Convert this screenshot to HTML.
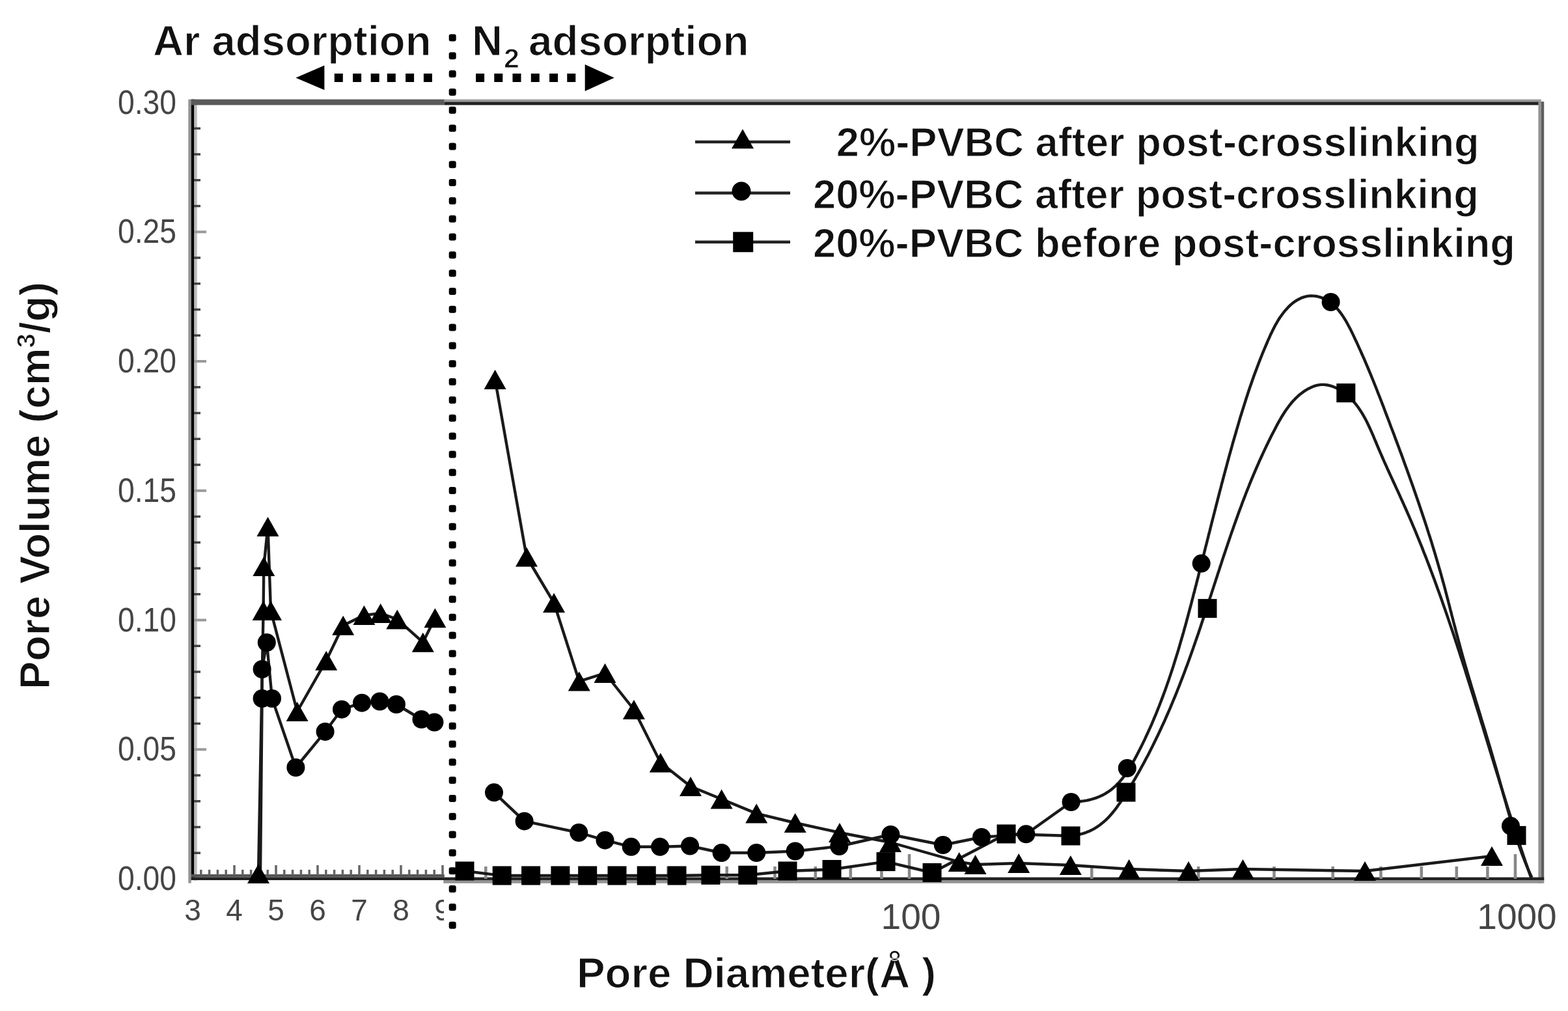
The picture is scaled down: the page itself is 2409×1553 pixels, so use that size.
<!DOCTYPE html><html><head><meta charset="utf-8"><title>Pore size distribution</title><style>html,body{margin:0;padding:0;background:#fff;overflow:hidden;}svg{display:block;}text{font-family:"Liberation Sans",Arial,sans-serif;}</style></head><body>
<svg width="2409" height="1553" viewBox="0 0 2409 1553">
<rect width="100%" height="100%" fill="#fff"/>
<g id="chart">
<rect x="289.3" y="152.6" width="4.5" height="1204" fill="#959595"/>
<rect x="298" y="152.6" width="4.7" height="1200" fill="#bbb"/>
<rect x="293.8" y="152.6" width="4.3" height="1199.4" fill="#000"/>
<rect x="293.8" y="152.6" width="389" height="8.8" fill="#5a5a5a"/>
<rect x="682.8" y="152.6" width="1685" height="3.8" fill="#9a9a9a"/>
<rect x="682.8" y="156.4" width="1689" height="5" fill="#222"/>
<rect x="2363.4" y="156.4" width="4.6" height="1200.6" fill="#939393"/>
<rect x="2368" y="156.4" width="4.2" height="1195.6" fill="#5f5f5f"/>
<rect x="293.8" y="1343" width="389" height="4.6" fill="#555"/>
<rect x="293.8" y="1347.6" width="2078.4" height="4.4" fill="#222"/>
<rect x="681.3" y="1352" width="1691" height="4.8" fill="#939393"/>
<path d="M298,1310.2 h10 M298,1270.5 h10 M298,1230.8 h10 M298,1191 h10 M298,1111.5 h10 M298,1071.8 h10 M298,1032 h10 M298,992.2 h10 M298,912.8 h10 M298,873 h10 M298,833.2 h10 M298,793.5 h10 M298,714 h10 M298,674.2 h10 M298,634.5 h10 M298,594.8 h10 M298,515.2 h10 M298,475.5 h10 M298,435.7 h10 M298,396 h10 M298,316.5 h10 M298,276.7 h10 M298,237 h10 M298,197.2 h10" stroke="#444" stroke-width="3.6" fill="none"/>
<path d="M298,1151.2 h19 M298,952.5 h19 M298,753.8 h19 M298,555 h19 M298,356.2 h19" stroke="#9a9a9a" stroke-width="4" fill="none"/>
<path d="M308.8,1344 v-8 M321.6,1344 v-8 M334.4,1344 v-8 M347.2,1344 v-8 M360,1344 v-15 M372.8,1344 v-8 M385.6,1344 v-8 M398.4,1344 v-8 M411.2,1344 v-8 M424,1344 v-15 M436.8,1344 v-8 M449.6,1344 v-8 M462.4,1344 v-8 M475.2,1344 v-8 M488,1344 v-15 M500.8,1344 v-8 M513.6,1344 v-8 M526.4,1344 v-8 M539.2,1344 v-8 M552,1344 v-15 M564.8,1344 v-8 M577.6,1344 v-8 M590.4,1344 v-8 M603.2,1344 v-8 M616,1344 v-15 M628.8,1344 v-8 M641.6,1344 v-8 M654.4,1344 v-8 M667.2,1344 v-8 M680,1344 v-15" stroke="#666" stroke-width="3.5" fill="none"/>
<path d="M746.3,1350 v-19 M910.2,1350 v-19 M1026.5,1350 v-19 M1116.7,1350 v-19 M1190.5,1350 v-19 M1252.8,1350 v-19 M1306.8,1350 v-19 M1354.4,1350 v-19 M1677.3,1350 v-19 M1841.2,1350 v-19 M1957.5,1350 v-19 M2047.7,1350 v-19 M2121.5,1350 v-19 M2183.8,1350 v-19 M2237.8,1350 v-19 M2285.4,1350 v-19 M1397,1350 v-38 M2328,1350 v-38" stroke="#888" stroke-width="4.5" fill="none"/>
<g fill="#000"><rect x="689.7" y="52.5" width="11" height="11" rx="3"/><rect x="689.7" y="80.3" width="11" height="11" rx="3"/><rect x="689.7" y="108.1" width="11" height="11" rx="3"/><rect x="689.7" y="136" width="11" height="11" rx="3"/><rect x="689.7" y="163.8" width="11" height="11" rx="3"/><rect x="689.7" y="191.6" width="11" height="11" rx="3"/><rect x="689.7" y="219.4" width="11" height="11" rx="3"/><rect x="689.7" y="247.2" width="11" height="11" rx="3"/><rect x="689.7" y="275.1" width="11" height="11" rx="3"/><rect x="689.7" y="302.9" width="11" height="11" rx="3"/><rect x="689.7" y="330.7" width="11" height="11" rx="3"/><rect x="689.7" y="358.5" width="11" height="11" rx="3"/><rect x="689.7" y="386.3" width="11" height="11" rx="3"/><rect x="689.7" y="414.2" width="11" height="11" rx="3"/><rect x="689.7" y="442" width="11" height="11" rx="3"/><rect x="689.7" y="469.8" width="11" height="11" rx="3"/><rect x="689.7" y="497.6" width="11" height="11" rx="3"/><rect x="689.7" y="525.4" width="11" height="11" rx="3"/><rect x="689.7" y="553.3" width="11" height="11" rx="3"/><rect x="689.7" y="581.1" width="11" height="11" rx="3"/><rect x="689.7" y="608.9" width="11" height="11" rx="3"/><rect x="689.7" y="636.7" width="11" height="11" rx="3"/><rect x="689.7" y="664.5" width="11" height="11" rx="3"/><rect x="689.7" y="692.4" width="11" height="11" rx="3"/><rect x="689.7" y="720.2" width="11" height="11" rx="3"/><rect x="689.7" y="748" width="11" height="11" rx="3"/><rect x="689.7" y="775.8" width="11" height="11" rx="3"/><rect x="689.7" y="803.6" width="11" height="11" rx="3"/><rect x="689.7" y="831.5" width="11" height="11" rx="3"/><rect x="689.7" y="859.3" width="11" height="11" rx="3"/><rect x="689.7" y="887.1" width="11" height="11" rx="3"/><rect x="689.7" y="914.9" width="11" height="11" rx="3"/><rect x="689.7" y="942.7" width="11" height="11" rx="3"/><rect x="689.7" y="970.6" width="11" height="11" rx="3"/><rect x="689.7" y="998.4" width="11" height="11" rx="3"/><rect x="689.7" y="1026.2" width="11" height="11" rx="3"/><rect x="689.7" y="1054" width="11" height="11" rx="3"/><rect x="689.7" y="1081.8" width="11" height="11" rx="3"/><rect x="689.7" y="1109.7" width="11" height="11" rx="3"/><rect x="689.7" y="1137.5" width="11" height="11" rx="3"/><rect x="689.7" y="1165.3" width="11" height="11" rx="3"/><rect x="689.7" y="1193.1" width="11" height="11" rx="3"/><rect x="689.7" y="1220.9" width="11" height="11" rx="3"/><rect x="689.7" y="1248.8" width="11" height="11" rx="3"/><rect x="689.7" y="1276.6" width="11" height="11" rx="3"/><rect x="689.7" y="1304.4" width="11" height="11" rx="3"/><rect x="689.7" y="1332.2" width="11" height="11" rx="3"/><rect x="689.7" y="1360" width="11" height="11" rx="3"/><rect x="689.7" y="1387.9" width="11" height="11" rx="3"/><rect x="689.7" y="1415.7" width="11" height="11" rx="3"/></g>
<g fill="none" stroke="#1a1a1a" stroke-width="4.4" stroke-linejoin="round">
<path d="M397,1342 L404.6,938 L405.3,870 L411.5,809 L416,938 L456.6,1093 L501.2,1014.7 L527.2,960.7 L559.4,945.1 L584.7,942 L610.3,951.4 L649.8,986.7 L668.4,949.3"/>
<path d="M760.6,583 L809,855.5 L851.1,926 L889.8,1046.6 L929.5,1034 L973.9,1090 L1014.8,1171.6 L1061,1208 L1108.6,1227.5 L1162.2,1249.6 L1221.7,1264 L1290,1279 L1368,1294 L1473.7,1324 L1498.5,1328 L1565.2,1326 L1644.8,1329 L1734.6,1335 L1826,1338 L1909.5,1335 L2097,1338 L2292,1315"/>
<path d="M400,1342 L402.6,1073 L402.6,1028 L409.8,987 L418,1073 L454.4,1179 L499.6,1123.9 L525,1089.7 L556,1079.7 L583.5,1077.5 L608.9,1082 L647.5,1105 L667.4,1109.5"/>
<path d="M759,1217.3 L805.6,1261.4 L889.3,1279 L929.5,1290.7 L969.7,1300.8 L1014.1,1300.8 L1060,1299.5 L1108.6,1310 L1162.2,1310 L1221.7,1307.5 L1289.3,1300 L1368.4,1282 L1448.8,1298 L1508,1286 L1576.4,1281.3 L1645.6,1232"/>
<path d="M1644.7,1231.4 L1649.7,1231.5 L1654.7,1231.4 L1659.7,1231.0 L1664.7,1230.4 L1669.6,1229.6 L1674.5,1228.5 L1679.3,1227.2 L1684.1,1225.6 L1688.8,1223.8 L1693.3,1221.7 L1697.7,1219.4 L1702.0,1216.7 L1706.1,1213.9 L1710.0,1210.7 L1713.8,1207.4 L1717.3,1203.9 L1720.7,1200.2 L1723.9,1196.3 L1727.0,1192.3 L1729.9,1188.3 L1732.7,1184.1 L1735.4,1179.9 L1738.0,1175.6 L1740.5,1171.2 L1742.9,1166.9 L1745.3,1162.4 L1747.6,1158.0 L1749.9,1153.6 L1752.2,1149.1 L1754.4,1144.6 L1756.6,1140.1 L1758.8,1135.6 L1760.9,1131.0 L1763.0,1126.5 L1765.1,1121.9 L1767.2,1117.3 L1769.2,1112.8 L1771.2,1108.2 L1773.1,1103.5 L1775.1,1098.9 L1777.0,1094.3 L1778.8,1089.6 L1780.7,1085.0 L1782.5,1080.3 L1784.3,1075.6 L1786.1,1070.9 L1787.8,1066.2 L1789.6,1061.5 L1791.3,1056.8 L1792.9,1052.1 L1794.6,1047.3 L1796.2,1042.6 L1797.8,1037.9 L1799.4,1033.1 L1801.0,1028.3 L1802.5,1023.6 L1804.0,1018.8 L1805.5,1014.0 L1807.0,1009.2 L1808.5,1004.4 L1810.0,999.6 L1811.4,994.8 L1812.8,990.0 L1814.2,985.2 L1815.6,980.4 L1817.0,975.6 L1818.4,970.8 L1819.7,965.9 L1821.1,961.1 L1822.4,956.3 L1823.7,951.4 L1825.0,946.6 L1826.3,941.7 L1827.6,936.9 L1828.9,932.1 L1830.2,927.2 L1831.4,922.4 L1832.7,917.5 L1833.9,912.6 L1835.2,907.8 L1836.4,902.9 L1837.7,898.1 L1838.9,893.2 L1840.2,888.4 L1841.4,883.5 L1842.6,878.6 L1843.9,873.8 L1845.1,868.9 L1846.3,864.1 L1847.5,859.2 L1848.8,854.3 L1850.0,849.5 L1851.2,844.6 L1852.4,839.8 L1853.7,834.9 L1854.9,830.0 L1856.1,825.2 L1857.3,820.3 L1858.6,815.5 L1859.8,810.6 L1861.0,805.7 L1862.2,800.9 L1863.5,796.0 L1864.7,791.2 L1866.0,786.3 L1867.2,781.4 L1868.4,776.6 L1869.7,771.7 L1870.9,766.9 L1872.2,762.0 L1873.4,757.2 L1874.7,752.3 L1876.0,747.5 L1877.2,742.6 L1878.5,737.8 L1879.8,732.9 L1881.1,728.1 L1882.4,723.2 L1883.7,718.4 L1885.0,713.5 L1886.3,708.7 L1887.6,703.9 L1888.9,699.0 L1890.3,694.2 L1891.6,689.4 L1893.0,684.5 L1894.3,679.7 L1895.7,674.9 L1897.1,670.1 L1898.5,665.3 L1899.9,660.4 L1901.3,655.6 L1902.7,650.8 L1904.1,646.0 L1905.5,641.2 L1907.0,636.4 L1908.5,631.6 L1910.0,626.8 L1911.5,622.1 L1913.0,617.3 L1914.5,612.5 L1916.1,607.7 L1917.6,603.0 L1919.2,598.2 L1920.8,593.5 L1922.5,588.7 L1924.1,584.0 L1925.8,579.3 L1927.5,574.6 L1929.3,569.9 L1931.0,565.2 L1932.8,560.5 L1934.6,555.8 L1936.4,551.1 L1938.3,546.5 L1940.1,541.8 L1942.1,537.2 L1944.0,532.6 L1946.0,528.0 L1947.9,523.4 L1950.0,518.8 L1952.0,514.2 L1954.2,509.7 L1956.4,505.2 L1958.7,500.7 L1961.2,496.4 L1963.7,492.0 L1966.4,487.8 L1969.3,483.7 L1972.3,479.7 L1975.5,475.9 L1978.9,472.2 L1982.5,468.7 L1986.3,465.4 L1990.4,462.5 L1994.7,459.9 L1999.2,457.7 L2003.9,456.1 L2008.8,454.9 L2013.8,454.4 L2018.8,454.6 L2023.8,455.3 L2028.6,456.6 L2033.3,458.4 L2037.8,460.6 L2042.0,463.2 L2046.1,466.2 L2049.8,469.5 L2053.4,473.1 L2056.7,476.8 L2059.8,480.8 L2062.7,484.9 L2065.4,489.1 L2068.0,493.4 L2070.4,497.7 L2072.8,502.2 L2075.1,506.6 L2077.3,511.1 L2079.5,515.6 L2081.6,520.2 L2083.8,524.7 L2085.9,529.3 L2087.9,533.8 L2090.0,538.4 L2092.0,543.0 L2094.1,547.6 L2096.1,552.2 L2098.1,556.8 L2100.0,561.4 L2102.0,566.0 L2103.9,570.6 L2105.8,575.2 L2107.7,579.9 L2109.6,584.5 L2111.5,589.2 L2113.3,593.8 L2115.2,598.5 L2117.0,603.2 L2118.8,607.8 L2120.7,612.5 L2122.5,617.2 L2124.3,621.9 L2126.1,626.5 L2127.8,631.2 L2129.6,635.9 L2131.4,640.6 L2133.2,645.3 L2135.0,650.0 L2136.7,654.7 L2138.5,659.3 L2140.3,664.0 L2142.1,668.7 L2143.8,673.4 L2145.6,678.1 L2147.3,682.8 L2149.1,687.5 L2150.8,692.2 L2152.6,696.9 L2154.3,701.6 L2156.0,706.3 L2157.7,711.0 L2159.4,715.7 L2161.2,720.5 L2162.9,725.2 L2164.6,729.9 L2166.2,734.6 L2167.9,739.3 L2169.6,744.1 L2171.3,748.8 L2172.9,753.5 L2174.6,758.2 L2176.2,763.0 L2177.9,767.7 L2179.5,772.5 L2181.1,777.2 L2182.7,782.0 L2184.3,786.7 L2185.9,791.5 L2187.5,796.2 L2189.1,801.0 L2190.6,805.7 L2192.2,810.5 L2193.7,815.3 L2195.2,820.1 L2196.8,824.8 L2198.3,829.6 L2199.8,834.4 L2201.2,839.2 L2202.7,844.0 L2204.2,848.8 L2205.6,853.6 L2207.0,858.4 L2208.4,863.2 L2209.8,868.0 L2211.2,872.8 L2212.6,877.7 L2214.0,882.5 L2215.3,887.3 L2216.6,892.1 L2218.0,897.0 L2219.3,901.8 L2220.6,906.7 L2221.8,911.5 L2223.1,916.4 L2224.4,921.2 L2225.6,926.1 L2226.9,930.9 L2228.1,935.8 L2229.4,940.6 L2230.6,945.5 L2231.9,950.3 L2233.1,955.2 L2234.4,960.0 L2235.7,964.9 L2236.9,969.7 L2238.2,974.6 L2239.5,979.4 L2240.8,984.3 L2242.1,989.1 L2243.4,994.0 L2244.7,998.8 L2246.0,1003.6 L2247.4,1008.5 L2248.8,1013.3 L2250.1,1018.1 L2251.5,1022.9 L2252.9,1027.7 L2254.3,1032.6 L2255.7,1037.4 L2257.1,1042.2 L2258.6,1047.0 L2260.0,1051.8 L2261.4,1056.6 L2262.9,1061.4 L2264.3,1066.2 L2265.8,1071.0 L2267.2,1075.8 L2268.7,1080.6 L2270.2,1085.4 L2271.6,1090.2 L2273.1,1095.0 L2274.6,1099.8 L2276.0,1104.6 L2277.5,1109.3 L2278.9,1114.1 L2280.4,1118.9 L2281.9,1123.7 L2283.3,1128.5 L2284.8,1133.3 L2286.2,1138.1 L2287.6,1142.9 L2289.1,1147.7 L2290.5,1152.5 L2291.9,1157.4 L2293.3,1162.2 L2294.7,1167.0 L2296.1,1171.8 L2297.5,1176.6 L2298.9,1181.4 L2300.3,1186.3 L2301.6,1191.1 L2303.0,1195.9 L2304.3,1200.7 L2305.7,1205.6 L2307.0,1210.4 L2308.4,1215.2 L2309.7,1220.1 L2311.1,1224.9 L2312.4,1229.7 L2313.8,1234.5 L2315.1,1239.4 L2316.5,1244.2 L2317.9,1249.0 L2319.3,1253.8 L2320.8,1258.6 L2322.2,1263.4 L2323.7,1268.2 L2325.2,1273.0 L2326.7,1277.8 L2328.2,1282.5 L2329.8,1287.3 L2331.4,1292.0 L2333.0,1296.8 L2334.7,1301.5 L2336.4,1306.2 L2338.1,1310.9 L2339.9,1315.6 L2341.7,1320.3 L2343.5,1325.0 L2345.4,1329.6 L2347.3,1334.3 L2349.3,1338.9 L2351.3,1343.4 L2353.4,1348.0"/>
<path d="M714,1338 L771.2,1345 L815.6,1345 L860.9,1345 L902.7,1345 L948,1345 L993.2,1345 L1040,1345 L1091.9,1344.3 L1148.8,1344.3 L1210,1338 L1278,1335.5 L1361,1323.6 L1432,1340.5 L1546,1281 L1645,1284"/>
<path d="M1644.1,1283.7 L1649.1,1283.2 L1654.0,1282.6 L1658.9,1281.6 L1663.8,1280.3 L1668.5,1278.8 L1673.2,1276.9 L1677.7,1274.8 L1682.1,1272.3 L1686.3,1269.7 L1690.4,1266.8 L1694.3,1263.6 L1698.1,1260.3 L1701.7,1256.9 L1705.1,1253.2 L1708.4,1249.5 L1711.6,1245.6 L1714.7,1241.7 L1717.6,1237.6 L1720.5,1233.5 L1723.3,1229.4 L1726.1,1225.2 L1728.8,1221.0 L1731.4,1216.7 L1734.0,1212.5 L1736.6,1208.2 L1739.2,1203.9 L1741.8,1199.6 L1744.3,1195.3 L1746.8,1190.9 L1749.3,1186.6 L1751.7,1182.2 L1754.1,1177.8 L1756.5,1173.5 L1758.9,1169.0 L1761.2,1164.6 L1763.6,1160.2 L1765.9,1155.7 L1768.1,1151.3 L1770.4,1146.8 L1772.6,1142.3 L1774.8,1137.8 L1777.0,1133.3 L1779.2,1128.8 L1781.3,1124.3 L1783.4,1119.8 L1785.5,1115.2 L1787.6,1110.7 L1789.7,1106.1 L1791.7,1101.5 L1793.7,1097.0 L1795.7,1092.4 L1797.7,1087.8 L1799.6,1083.2 L1801.6,1078.5 L1803.5,1073.9 L1805.4,1069.3 L1807.3,1064.7 L1809.1,1060.0 L1811.0,1055.4 L1812.8,1050.7 L1814.6,1046.0 L1816.4,1041.4 L1818.2,1036.7 L1820.0,1032.0 L1821.7,1027.3 L1823.5,1022.6 L1825.2,1017.9 L1826.9,1013.2 L1828.6,1008.5 L1830.3,1003.8 L1832.0,999.1 L1833.6,994.4 L1835.3,989.6 L1836.9,984.9 L1838.5,980.2 L1840.2,975.4 L1841.8,970.7 L1843.4,966.0 L1845.0,961.2 L1846.5,956.5 L1848.1,951.7 L1849.7,947.0 L1851.3,942.2 L1852.8,937.4 L1854.4,932.7 L1855.9,927.9 L1857.5,923.2 L1859.0,918.4 L1860.6,913.7 L1862.1,908.9 L1863.7,904.1 L1865.2,899.4 L1866.8,894.6 L1868.3,889.9 L1869.9,885.1 L1871.4,880.3 L1873.0,875.6 L1874.5,870.8 L1876.1,866.1 L1877.6,861.3 L1879.2,856.6 L1880.8,851.8 L1882.4,847.1 L1884.0,842.3 L1885.6,837.6 L1887.2,832.8 L1888.8,828.1 L1890.4,823.4 L1892.0,818.6 L1893.7,813.9 L1895.3,809.2 L1897.0,804.5 L1898.7,799.7 L1900.4,795.0 L1902.1,790.3 L1903.8,785.6 L1905.5,780.9 L1907.3,776.2 L1909.0,771.5 L1910.8,766.9 L1912.6,762.2 L1914.4,757.5 L1916.2,752.9 L1918.1,748.2 L1919.9,743.6 L1921.8,738.9 L1923.7,734.3 L1925.7,729.7 L1927.6,725.1 L1929.6,720.5 L1931.6,715.9 L1933.6,711.3 L1935.6,706.7 L1937.7,702.2 L1939.8,697.6 L1941.9,693.1 L1944.0,688.6 L1946.2,684.0 L1948.4,679.5 L1950.6,675.0 L1952.8,670.6 L1955.1,666.1 L1957.4,661.7 L1959.7,657.2 L1962.0,652.8 L1964.4,648.4 L1966.9,644.1 L1969.4,639.7 L1972.1,635.5 L1974.8,631.3 L1977.7,627.2 L1980.7,623.2 L1983.8,619.3 L1987.1,615.5 L1990.6,611.9 L1994.2,608.5 L1998.0,605.2 L2002.0,602.2 L2006.2,599.4 L2010.5,596.9 L2015.0,594.7 L2019.7,592.9 L2024.5,591.6 L2029.4,590.9 L2034.4,590.9 L2039.4,591.5 L2044.3,592.6 L2049.0,594.3 L2053.6,596.3 L2058.0,598.7 L2062.2,601.4 L2066.2,604.4 L2070.1,607.5 L2073.8,610.9 L2077.3,614.4 L2080.7,618.2 L2083.9,622.0 L2086.9,626.0 L2089.7,630.2 L2092.4,634.4 L2094.9,638.7 L2097.4,643.1 L2099.7,647.5 L2101.9,652.0 L2104.0,656.5 L2106.1,661.1 L2108.1,665.6 L2110.1,670.2 L2112.0,674.9 L2114.0,679.5 L2115.9,684.1 L2117.8,688.7 L2119.8,693.3 L2121.8,697.9 L2123.8,702.5 L2125.8,707.1 L2127.8,711.6 L2129.9,716.2 L2131.9,720.8 L2134.0,725.3 L2136.1,729.9 L2138.2,734.4 L2140.3,739.0 L2142.4,743.5 L2144.5,748.1 L2146.6,752.6 L2148.7,757.2 L2150.7,761.7 L2152.8,766.3 L2154.9,770.8 L2156.9,775.4 L2159.0,780.0 L2161.0,784.5 L2163.0,789.1 L2165.0,793.7 L2167.0,798.3 L2169.0,802.9 L2170.9,807.5 L2172.9,812.1 L2174.8,816.7 L2176.7,821.4 L2178.6,826.0 L2180.5,830.6 L2182.4,835.3 L2184.3,839.9 L2186.1,844.6 L2187.9,849.2 L2189.8,853.9 L2191.6,858.5 L2193.4,863.2 L2195.2,867.9 L2197.0,872.6 L2198.7,877.2 L2200.5,881.9 L2202.2,886.6 L2204.0,891.3 L2205.7,896.0 L2207.4,900.7 L2209.1,905.4 L2210.8,910.1 L2212.5,914.8 L2214.2,919.5 L2215.9,924.3 L2217.5,929.0 L2219.2,933.7 L2220.8,938.4 L2222.5,943.2 L2224.1,947.9 L2225.7,952.6 L2227.3,957.4 L2228.9,962.1 L2230.5,966.9 L2232.1,971.6 L2233.7,976.4 L2235.3,981.1 L2236.8,985.9 L2238.4,990.6 L2239.9,995.4 L2241.5,1000.1 L2243.0,1004.9 L2244.6,1009.7 L2246.1,1014.4 L2247.6,1019.2 L2249.2,1024.0 L2250.7,1028.7 L2252.2,1033.5 L2253.7,1038.3 L2255.2,1043.0 L2256.7,1047.8 L2258.2,1052.6 L2259.7,1057.4 L2261.2,1062.1 L2262.7,1066.9 L2264.2,1071.7 L2265.7,1076.5 L2267.1,1081.3 L2268.6,1086.0 L2270.1,1090.8 L2271.6,1095.6 L2273.1,1100.4 L2274.5,1105.2 L2276.0,1110.0 L2277.5,1114.7 L2278.9,1119.5 L2280.4,1124.3 L2281.9,1129.1 L2283.3,1133.9 L2284.8,1138.7 L2286.3,1143.5 L2287.7,1148.2 L2289.2,1153.0 L2290.7,1157.8 L2292.1,1162.6 L2293.6,1167.4 L2295.1,1172.2 L2296.5,1176.9 L2298.0,1181.7 L2299.5,1186.5 L2301.0,1191.3 L2302.5,1196.1 L2303.9,1200.9 L2305.4,1205.6 L2306.9,1210.4 L2308.4,1215.2 L2309.9,1220.0 L2311.4,1224.7 L2312.9,1229.5 L2314.4,1234.3 L2315.9,1239.1 L2317.4,1243.8 L2318.9,1248.6 L2320.5,1253.4 L2322.0,1258.1 L2323.5,1262.9 L2325.1,1267.7 L2326.6,1272.4 L2328.2,1277.2 L2329.7,1281.9 L2331.3,1286.7 L2332.9,1291.4 L2334.4,1296.2 L2336.0,1300.9 L2337.6,1305.7 L2339.2,1310.4 L2340.8,1315.2 L2342.4,1319.9 L2344.0,1324.7 L2345.7,1329.4 L2347.3,1334.1 L2348.9,1338.8 L2350.6,1343.6 L2352.3,1348.3"/>
</g>
<g fill="#000">
<rect x="699.5" y="1323.5" width="29.0" height="29.0"/>
<rect x="756.7" y="1330.5" width="29.0" height="29.0"/>
<rect x="801.1" y="1330.5" width="29.0" height="29.0"/>
<rect x="846.4" y="1330.5" width="29.0" height="29.0"/>
<rect x="888.2" y="1330.5" width="29.0" height="29.0"/>
<rect x="933.5" y="1330.5" width="29.0" height="29.0"/>
<rect x="978.7" y="1330.5" width="29.0" height="29.0"/>
<rect x="1025.5" y="1330.5" width="29.0" height="29.0"/>
<rect x="1077.4" y="1329.8" width="29.0" height="29.0"/>
<rect x="1134.3" y="1329.8" width="29.0" height="29.0"/>
<rect x="1195.5" y="1323.5" width="29.0" height="29.0"/>
<rect x="1263.5" y="1321" width="29.0" height="29.0"/>
<rect x="1346.5" y="1309.1" width="29.0" height="29.0"/>
<rect x="1417.5" y="1326" width="29.0" height="29.0"/>
<rect x="1531.5" y="1266.5" width="29.0" height="29.0"/>
<rect x="1630.5" y="1269.5" width="29.0" height="29.0"/>
<rect x="1715.5" y="1202.5" width="29.0" height="29.0"/>
<rect x="1840.5" y="920.1" width="29.0" height="29.0"/>
<rect x="2053.3" y="589.1" width="29.0" height="29.0"/>
<rect x="2315.5" y="1268.9" width="29.0" height="29.0"/>
<circle cx="402.6" cy="1073" r="14"/>
<circle cx="402.6" cy="1028" r="14"/>
<circle cx="409.8" cy="987" r="14"/>
<circle cx="418" cy="1073" r="14"/>
<circle cx="454.4" cy="1179" r="14"/>
<circle cx="499.6" cy="1123.9" r="14"/>
<circle cx="525" cy="1089.7" r="14"/>
<circle cx="556" cy="1079.7" r="14"/>
<circle cx="583.5" cy="1077.5" r="14"/>
<circle cx="608.9" cy="1082" r="14"/>
<circle cx="647.5" cy="1105" r="14"/>
<circle cx="667.4" cy="1109.5" r="14"/>
<circle cx="759" cy="1217.3" r="14"/>
<circle cx="805.6" cy="1261.4" r="14"/>
<circle cx="889.3" cy="1279" r="14"/>
<circle cx="929.5" cy="1290.7" r="14"/>
<circle cx="969.7" cy="1300.8" r="14"/>
<circle cx="1014.1" cy="1300.8" r="14"/>
<circle cx="1060" cy="1299.5" r="14"/>
<circle cx="1108.6" cy="1310" r="14"/>
<circle cx="1162.2" cy="1310" r="14"/>
<circle cx="1221.7" cy="1307.5" r="14"/>
<circle cx="1289.3" cy="1300" r="14"/>
<circle cx="1368.4" cy="1282" r="14"/>
<circle cx="1448.8" cy="1298" r="14"/>
<circle cx="1508" cy="1286" r="14"/>
<circle cx="1576.4" cy="1281.3" r="14"/>
<circle cx="1645.6" cy="1232" r="14"/>
<circle cx="1731.8" cy="1180" r="14"/>
<circle cx="1845.7" cy="865.6" r="14"/>
<circle cx="2044.6" cy="464" r="14"/>
<circle cx="2321" cy="1268.8" r="14"/>
<path d="M397,1327 L414,1357 L380,1357Z"/>
<path d="M404.6,923 L421.6,953 L387.6,953Z"/>
<path d="M405.3,855 L422.3,885 L388.3,885Z"/>
<path d="M411.5,794 L428.5,824 L394.5,824Z"/>
<path d="M416,923 L433,953 L399,953Z"/>
<path d="M456.6,1078 L473.6,1108 L439.6,1108Z"/>
<path d="M501.2,999.7 L518.2,1029.7 L484.2,1029.7Z"/>
<path d="M527.2,945.7 L544.2,975.7 L510.2,975.7Z"/>
<path d="M559.4,930.1 L576.4,960.1 L542.4,960.1Z"/>
<path d="M584.7,927 L601.7,957 L567.7,957Z"/>
<path d="M610.3,936.4 L627.3,966.4 L593.3,966.4Z"/>
<path d="M649.8,971.7 L666.8,1001.7 L632.8,1001.7Z"/>
<path d="M668.4,934.3 L685.4,964.3 L651.4,964.3Z"/>
<path d="M760.6,568 L777.6,598 L743.6,598Z"/>
<path d="M809,840.5 L826,870.5 L792,870.5Z"/>
<path d="M851.1,911 L868.1,941 L834.1,941Z"/>
<path d="M889.8,1031.6 L906.8,1061.6 L872.8,1061.6Z"/>
<path d="M929.5,1019 L946.5,1049 L912.5,1049Z"/>
<path d="M973.9,1075 L990.9,1105 L956.9,1105Z"/>
<path d="M1014.8,1156.6 L1031.8,1186.6 L997.8,1186.6Z"/>
<path d="M1061,1193 L1078,1223 L1044,1223Z"/>
<path d="M1108.6,1212.5 L1125.6,1242.5 L1091.6,1242.5Z"/>
<path d="M1162.2,1234.6 L1179.2,1264.6 L1145.2,1264.6Z"/>
<path d="M1221.7,1249 L1238.7,1279 L1204.7,1279Z"/>
<path d="M1290,1264 L1307,1294 L1273,1294Z"/>
<path d="M1368,1279 L1385,1309 L1351,1309Z"/>
<path d="M1473.7,1309 L1490.7,1339 L1456.7,1339Z"/>
<path d="M1498.5,1313 L1515.5,1343 L1481.5,1343Z"/>
<path d="M1565.2,1311 L1582.2,1341 L1548.2,1341Z"/>
<path d="M1644.8,1314 L1661.8,1344 L1627.8,1344Z"/>
<path d="M1734.6,1320 L1751.6,1350 L1717.6,1350Z"/>
<path d="M1826,1323 L1843,1353 L1809,1353Z"/>
<path d="M1909.5,1320 L1926.5,1350 L1892.5,1350Z"/>
<path d="M2097,1323 L2114,1353 L2080,1353Z"/>
<path d="M2292,1300 L2309,1330 L2275,1330Z"/>
</g>
<g stroke="#222" stroke-width="4.5">
<line x1="1068" y1="218" x2="1214" y2="218"/>
<line x1="1068" y1="296.5" x2="1214" y2="296.5"/>
<line x1="1068" y1="371.8" x2="1214" y2="371.8"/>
</g><g fill="#000">
<path d="M1141,198.3 L1158,228.3 L1124,228.3Z"/>
<circle cx="1139" cy="293.7" r="14.5"/>
<rect x="1126.2" y="356.3" width="31.0" height="31.0"/>
</g>
<g font-weight="bold" font-size="63.5" fill="#111" stroke="#fff" stroke-width="1.2">
<text x="1284.7" y="240" textLength="988" lengthAdjust="spacingAndGlyphs">2%-PVBC after post-crosslinking</text>
<text x="1249" y="320" textLength="1023" lengthAdjust="spacingAndGlyphs">20%-PVBC after post-crosslinking</text>
<text x="1249" y="395" textLength="1079" lengthAdjust="spacingAndGlyphs">20%-PVBC before post-crosslinking</text>
</g>
<g font-weight="bold" font-size="65" fill="#111" stroke="#fff" stroke-width="1.2">
<text x="235" y="85.3" textLength="427.5" lengthAdjust="spacingAndGlyphs">Ar adsorption</text>
<text x="725" y="85">N</text>
<text x="774" y="103.5" font-size="43">2</text>
<text x="812" y="85" textLength="338.5" lengthAdjust="spacingAndGlyphs">adsorption</text>
</g>
<g fill="#000">
<path d="M454.4,119.4 L498.4,100.5 L498.4,138.3Z"/>
<rect x="513.8" y="113" width="13" height="13"/>
<rect x="542.1" y="113" width="13" height="13"/>
<rect x="569.7" y="113" width="13" height="13"/>
<rect x="594.8" y="113" width="13" height="13"/>
<rect x="623.1" y="113" width="13" height="13"/>
<rect x="650.9" y="113" width="13" height="13"/>
<rect x="731.1" y="113" width="13" height="13"/>
<rect x="759.3" y="113" width="13" height="13"/>
<rect x="787.5" y="113" width="13" height="13"/>
<rect x="815.8" y="113" width="13" height="13"/>
<rect x="844.1" y="113" width="13" height="13"/>
<rect x="871.3" y="113" width="13" height="13"/>
<path d="M943.7,119.4 L898.7,99 L898.7,140Z"/>
</g>
<g font-size="51" fill="#454545" text-anchor="end">
<text x="271" y="1367" textLength="90" lengthAdjust="spacingAndGlyphs">0.00</text>
<text x="271" y="1168.2" textLength="90" lengthAdjust="spacingAndGlyphs">0.05</text>
<text x="271" y="969.5" textLength="90" lengthAdjust="spacingAndGlyphs">0.10</text>
<text x="271" y="770.7" textLength="90" lengthAdjust="spacingAndGlyphs">0.15</text>
<text x="271" y="572" textLength="90" lengthAdjust="spacingAndGlyphs">0.20</text>
<text x="271" y="373.2" textLength="90" lengthAdjust="spacingAndGlyphs">0.25</text>
<text x="271" y="174.5" textLength="90" lengthAdjust="spacingAndGlyphs">0.30</text>
</g>
<g font-size="46" fill="#454545" text-anchor="middle">
<clipPath id="c9"><rect x="0" y="1300" width="682" height="200"/></clipPath>
<text x="296" y="1414">3</text>
<text x="360" y="1414">4</text>
<text x="424" y="1414">5</text>
<text x="488" y="1414">6</text>
<text x="552" y="1414">7</text>
<text x="616" y="1414">8</text>
<text x="680" y="1414" clip-path="url(#c9)">9</text>
</g>
<g font-size="55" fill="#454545" text-anchor="middle">
<text x="1399.5" y="1426.5">100</text>
<text x="2330.5" y="1427">1000</text>
</g>
<text x="886" y="1517" font-weight="bold" font-size="65" fill="#111" stroke="#fff" stroke-width="1.2" textLength="552" lengthAdjust="spacingAndGlyphs">Pore Diameter(Å )</text>
<text transform="translate(76,1059) rotate(-90)" font-weight="bold" font-size="65" fill="#111" stroke="#fff" stroke-width="1.2" textLength="626" lengthAdjust="spacingAndGlyphs">Pore Volume (cm<tspan dy="-22" font-size="40">3</tspan><tspan dy="22">/g)</tspan></text>
</g></svg></body></html>
